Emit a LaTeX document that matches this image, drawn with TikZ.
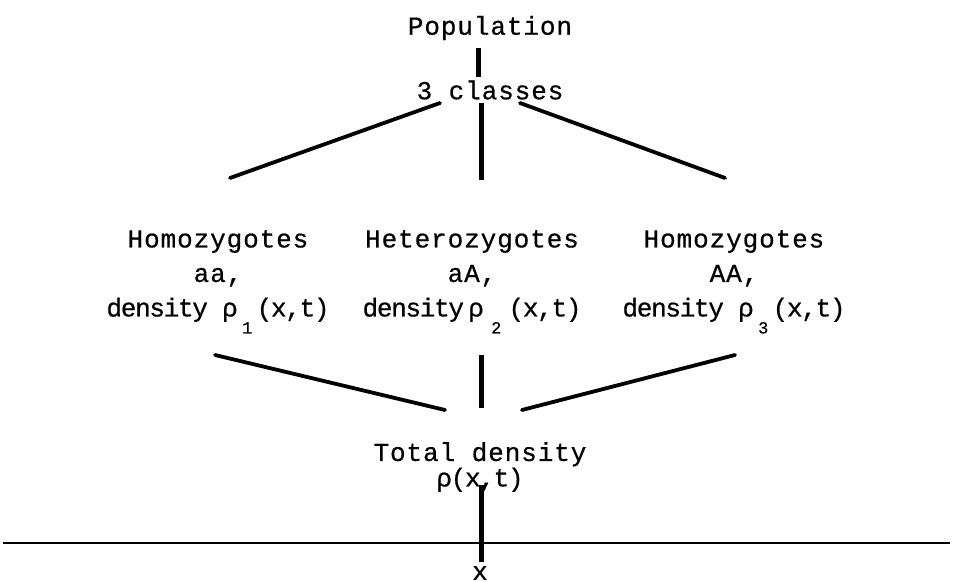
\documentclass[tikz,border=0pt]{standalone}
\usepackage{fontspec}
\newfontfamily\typefont{Liberation Mono}[LetterSpace=3.5, FakeBold=0.6]
\newfontfamily\tightfont{Liberation Mono}[LetterSpace=-5, FakeBold=0.6]
\newcommand{\rsub}[1]{\raisebox{-8.5pt}[0pt][0pt]{\fontsize{8.5}{8.5}\selectfont #1}}
\begin{document}
\begin{tikzpicture}[
        x=0.5pt, y=-0.5pt,
        font=\typefont\fontsize{13}{17.25}\selectfont,
        gen label/.style={align=center, inner sep=1pt},
        gen link/.style ={line width=1.9pt, line cap=round},
        gen stem/.style ={line width=2.5pt},
        gen axis/.style ={line width=1pt}
    ]
    \useasboundingbox (0,0) rectangle (955,582);
    %% --- top: the population and its classes -------------------------------
    \node[gen label] (pop) at (490,28) {Population};
    \node[gen label] (cls) at (490,90) {3 classes};
    \coordinate (popS) at (478,48);
    \coordinate (clsN) at (478,77);
    \draw[gen stem] (popS) -- (clsN);
    %% --- middle: the three genotypes ----------------------------------------
    \node[gen label] (homL) at (218,276)
        {Homozygotes\\aa,\\{\tightfont density ρ\,\rsub{1}\,(x,t)}};
    \node[gen label] (het)  at (472,276)
        {Heterozygotes\\aA,\\{\tightfont density\,ρ\;\rsub{2}\;(x,t)}};
    \node[gen label] (homR) at (734,276)
        {Homozygotes\\AA,\\{\tightfont density ρ\,\rsub{3}\,(x,t)}};
    \coordinate (clsL) at (440,103);
    \coordinate (clsM) at (481,103);
    \coordinate (clsR) at (520,103);
    \coordinate (homLN) at (230,178);
    \coordinate (hetN)  at (481,180);
    \coordinate (homRN) at (725,178);
    \draw[gen link] (clsL) -- (homLN);
    \draw[gen stem] (clsM) -- (hetN);
    \draw[gen link] (clsR) -- (homRN);
    %% --- bottom: the total density on the x axis ----------------------------
    \node[gen label] (tot) at (480,467)
        {Total density\\[-4.5pt]{\tightfont ρ(x,t)}};
    \coordinate (homLS) at (215,355);
    \coordinate (hetS)  at (481,355);
    \coordinate (homRS) at (735,355);
    \coordinate (totL) at (445,410);
    \coordinate (totM) at (481,408);
    \coordinate (totR) at (522,410);
    \draw[gen link] (homLS) -- (totL);
    \draw[gen stem] (hetS) -- (totM);
    \draw[gen link] (homRS) -- (totR);
    \coordinate (axL) at (3,543);
    \coordinate (axR) at (950,543);
    \draw[gen axis] (axL) -- (axR);
    \node[gen label, inner sep=0pt] (xlab) at (480,573) {x};
    \coordinate (totS) at (481,485);
    \coordinate (axT)  at (481,562);
    \draw[gen stem] (totS) -- (axT);
\end{tikzpicture}
\end{document}
